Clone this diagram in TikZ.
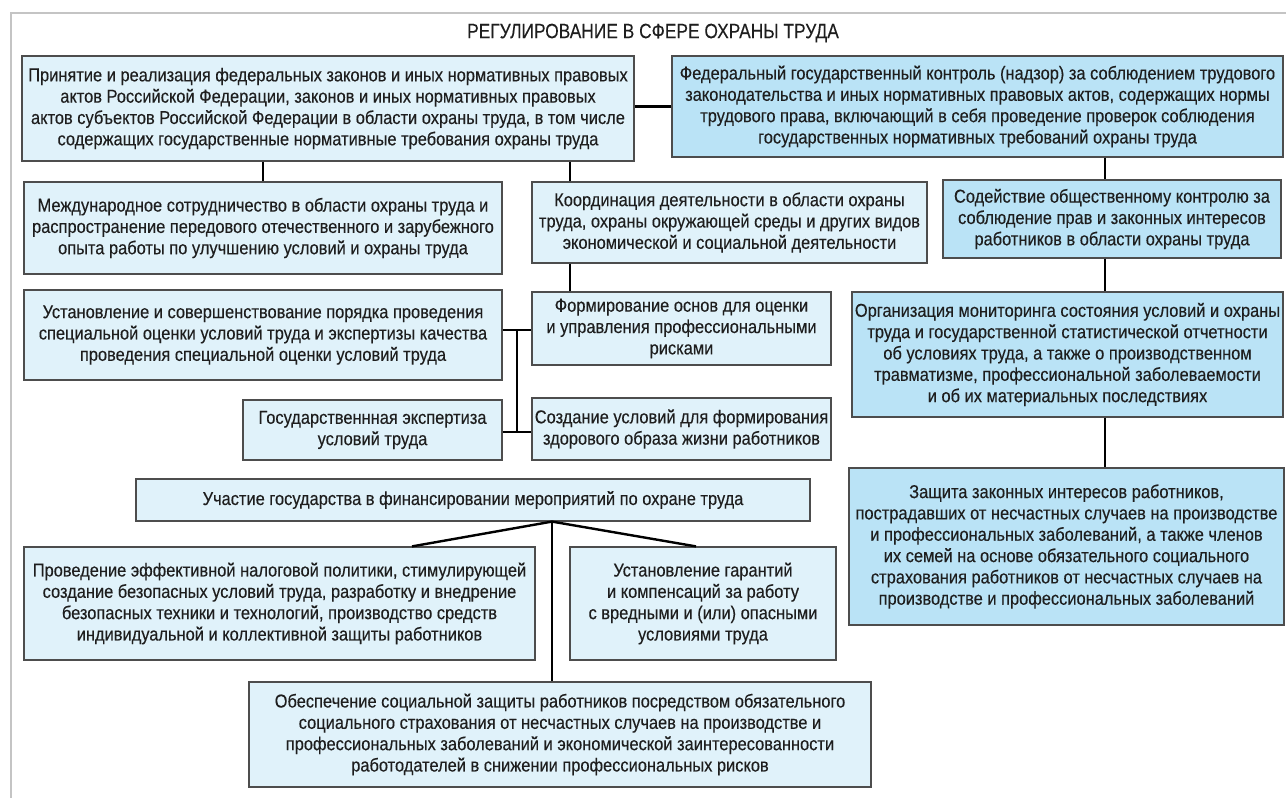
\documentclass[tikz,border=0pt]{standalone}
\usepackage{fontspec}
\setmainfont{Liberation Sans}[FakeStretch=0.88, FakeBold=0.25]
\newfontfamily\headfont{Liberation Sans}[FakeStretch=0.84, FakeBold=0.15]
\definecolor{lightfill}{HTML}{E0F2FA}
\definecolor{darkfill}{HTML}{BAE3F6}
\definecolor{boxline}{HTML}{4D4D4D}
\definecolor{framegray}{HTML}{C4C4C4}
\definecolor{textc}{HTML}{1E1E1E}
% box: name, style, x1, y1, x2, y2, text (pixel grid, y downwards)
\newcommand\bx[7]{\node[#2, minimum width={(#5-#3)*0.75pt}, minimum height={(#6-#4)*0.75pt}] (#1) at ({(#3+#5)/2},{(#4+#6)/2}) {#7};}
\begin{document}
\begin{tikzpicture}[x=0.75pt,y=-0.75pt,
  lbox/.style={draw=boxline, fill=lightfill, line width=0.9pt, inner sep=0pt, align=center,
               font=\fontsize{14}{16}\selectfont, text=textc},
  dbox/.style={lbox, fill=darkfill},
  link/.style={line width=1.8pt, black},
  frameline/.style={line width=1.9pt, framegray}]
\useasboundingbox (0,0) rectangle (1286,798);
\fill[white] (0,0) rectangle (1286,798);

% outer frame
\coordinate (f0) at (11,798);
\coordinate (f1) at (11,13);
\coordinate (f2) at (1286,13);
\draw[frameline] (f0) -- (f1) -- (f2);

\node[font=\headfont\fontsize{15.5}{18}\selectfont, text=textc] (t) at (653,33) {РЕГУЛИРОВАНИЕ В СФЕРЕ ОХРАНЫ ТРУДА};

\bx{b1}{lbox}{22}{56}{634}{161}{Принятие и реализация федеральных законов и иных нормативных правовых\\актов Российской Федерации, законов и иных нормативных правовых\\актов субъектов Российской Федерации в области охраны труда, в том числе\\содержащих государственные нормативные требования охраны труда}
\bx{b2}{dbox}{672}{56}{1283}{157}{Федеральный государственный контроль (надзор) за соблюдением трудового\\законодательства и иных нормативных правовых актов, содержащих нормы\\трудового права, включающий в себя проведение проверок соблюдения\\государственных нормативных требований охраны труда}
\bx{b3}{lbox}{24}{182}{502}{274}{Международное сотрудничество в области охраны труда и\\распространение передового отечественного и зарубежного\\опыта работы по улучшению условий и охраны труда}
\bx{b4}{lbox}{532}{182}{927}{263}{Координация деятельности в области охраны\\труда, охраны окружающей среды и других видов\\экономической и социальной деятельности}
\bx{b5}{dbox}{943}{180}{1281}{258}{Содействие общественному контролю за\\соблюдение прав и законных интересов\\работников в области охраны труда}
\bx{b6}{lbox}{24}{290}{502}{380}{Установление и совершенствование порядка проведения\\специальной оценки условий труда и экспертизы качества\\проведения специальной оценки условий труда}
\bx{b7}{lbox}{532}{292}{831}{365}{Формирование основ для оценки\\и управления профессиональными\\рисками}
\bx{b8}{dbox}{852}{292}{1283}{417}{Организация мониторинга состояния условий и охраны\\труда и государственной статистической отчетности\\об условиях труда, а также о производственном\\травматизме, профессиональной заболеваемости\\и об их материальных последствиях}
\bx{b9}{lbox}{243}{400}{502}{460}{Государственнная экспертиза\\условий труда}
\bx{b10}{lbox}{532}{398}{831}{460}{Создание условий для формирования\\здорового образа жизни работников}
\bx{b11}{lbox}{136}{479}{810}{521}{Участие государства в финансировании мероприятий по охране труда}
\bx{b12}{dbox}{849}{468}{1284}{625}{Защита законных интересов работников,\\пострадавших от несчастных случаев на производстве\\и профессиональных заболеваний, а также членов\\их семей на основе обязательного социального\\страхования работников от несчастных случаев на\\производстве и профессиональных заболеваний}
\bx{b13}{lbox}{24}{547}{535}{660}{Проведение эффективной налоговой политики, стимулирующей\\создание безопасных условий труда, разработку и внедрение\\безопасных техники и технологий, производство средств\\индивидуальной и коллективной защиты работников}
\bx{b14}{lbox}{570}{547}{836}{660}{Установление гарантий\\и компенсаций за работу\\с вредными и (или) опасными\\условиями труда}
\bx{b15}{lbox}{249}{682}{871}{787}{Обеспечение социальной защиты работников посредством обязательного\\социального страхования от несчастных случаев на производстве и\\профессиональных заболеваний и экономической заинтересованности\\работодателей в снижении профессиональных рисков}

% guide positions for connectors
\coordinate (xa) at (570,0);
\coordinate (xb) at (1105,0);
\coordinate (xc) at (517,0);
\coordinate (xd) at (552,0);
\coordinate (xl) at (412,0);
\coordinate (xr) at (696,0);
\coordinate (ya) at (0,330);
\coordinate (yb) at (0,432);

% connectors
\draw[link] (b2.west) -- (b2.west -| b1.east);
\draw[link] (b1.south -| b3.north) -- (b3.north);
\draw[link] (b1.south -| xa) -- (b4.north -| xa);
\draw[link] (b4.south -| xa) -- (b7.north -| xa);
\draw[link] (b2.south -| xb) -- (b5.north -| xb);
\draw[link] (b5.south -| xb) -- (b8.north -| xb);
\draw[link] (b8.south -| xb) -- (b12.north -| xb);
\draw[link] (b6.east |- ya) -- (b7.west |- ya);
\draw[link] (b9.east |- yb) -- (b10.west |- yb);
\draw[link] (xc |- ya) -- (xc |- yb);
\draw[link] (b13.north -| xl) -- (b11.south -| xd) -- (b14.north -| xr);
\draw[link] (b11.south -| xd) -- (b15.north -| xd);
\end{tikzpicture}
\end{document}
